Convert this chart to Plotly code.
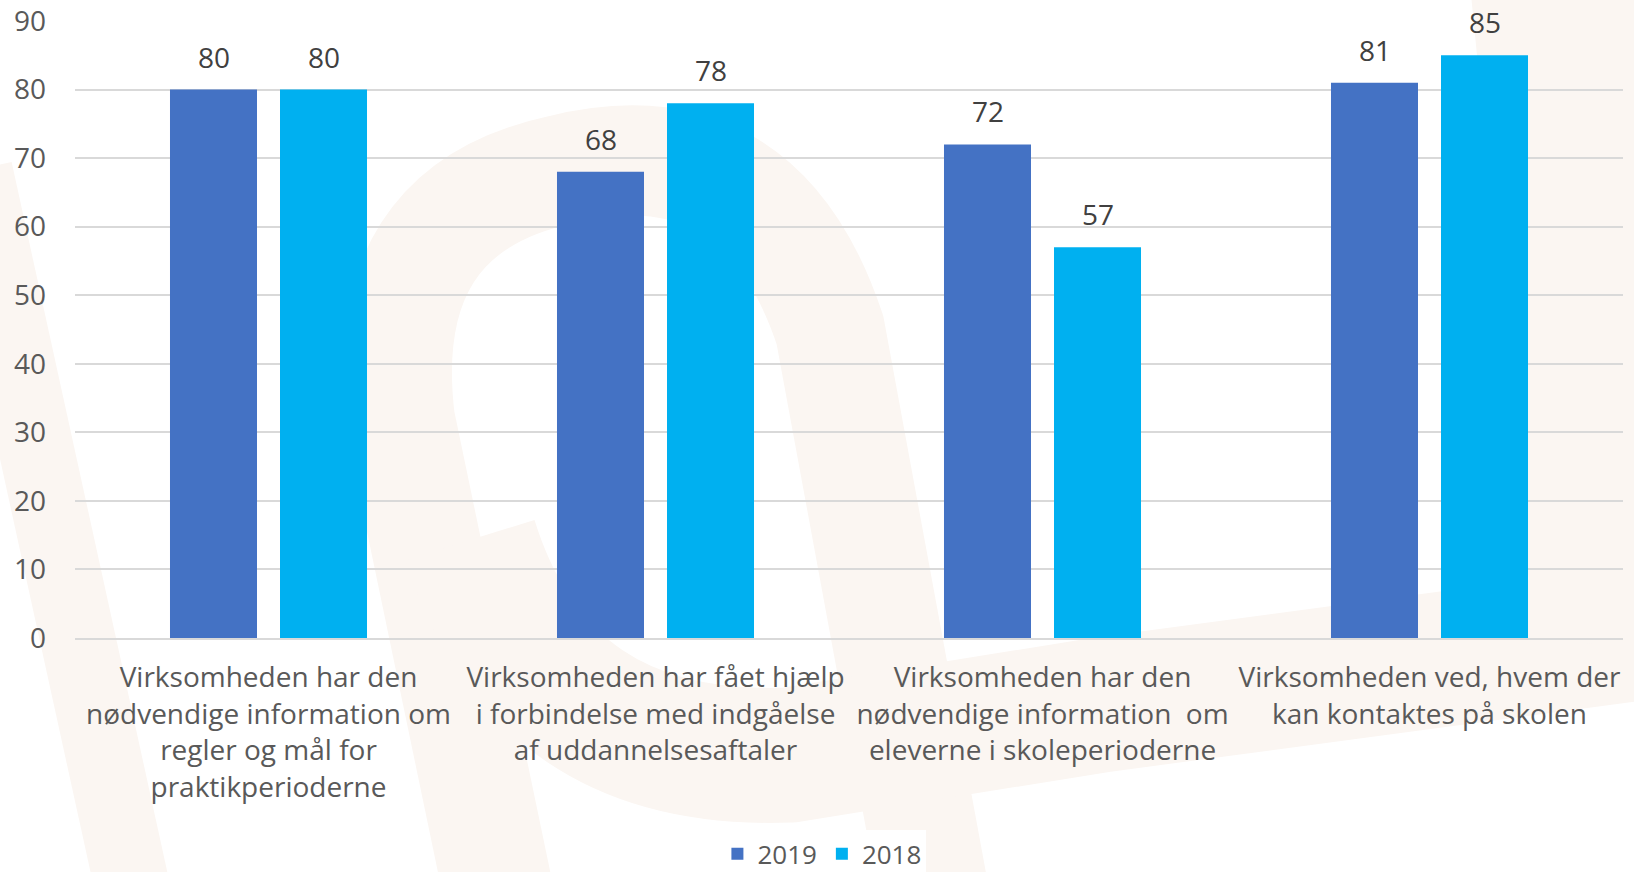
import plotly.graph_objects as go

categories = [
    "Virksomheden har den<br>nødvendige information om<br>regler og mål for<br>praktikperioderne",
    "Virksomheden har fået hjælp<br>i forbindelse med indgåelse<br>af uddannelsesaftaler",
    "Virksomheden har den<br>nødvendige information  om<br>eleverne i skoleperioderne",
    "Virksomheden ved, hvem der<br>kan kontaktes på skolen",
]
series_names = ["2019", "2018"]
values_2019 = [80, 68, 72, 81]
values_2018 = [80, 78, 57, 85]
series_colors = ["#4472C4", "#00B0F0"]
y_ticks = [0, 10, 20, 30, 40, 50, 60, 70, 80, 90]

font_family = "Open Sans, Liberation Sans, sans-serif"

W, H = 1634, 872
ML, MR, MT, MB = 75, 11, 21, 234
PW, PH = W - ML - MR, H - MT - MB


def px_path(points):
    """Decorative watermark path given in pixel coordinates -> paper coords."""
    out = []
    for cmd, pts in points:
        coords = " ".join(f"{(x - ML) / PW:.4f},{(H - MB - y) / PH:.4f}" for x, y in pts)
        out.append(f"{cmd} {coords}")
    return " ".join(out)


fig = go.Figure()
for name, vals, col in zip(series_names, [values_2019, values_2018], series_colors):
    fig.add_trace(go.Bar(name=name, x=categories, y=vals, marker_color=col,
                         marker_line_width=0))

# value labels above the bars
bar_offsets = [-55, 55]
annotations = []
for vals, dx in zip([values_2019, values_2018], bar_offsets):
    for cat, v in zip(categories, vals):
        annotations.append(dict(
            x=cat, y=v, xref="x", yref="y", text=str(v), showarrow=False,
            xshift=dx, yshift=12, yanchor="bottom",
            font=dict(size=28, color="#404040", family=font_family),
        ))

# faint watermark logo in the background
wm = "#fbf6f2"


def wm_stroke(pts, width):
    return dict(type="path", xref="paper", yref="paper", layer="below",
                path=px_path(pts), line=dict(color=wm, width=width))


shapes = [
    # left tail
    wm_stroke([("M", [(-25, 170)]), ("L", [(135, 900)])], 75),
    # arch: left leg, top, right leg
    wm_stroke([("M", [(500, 900)]), ("L", [(400, 420)]),
               ("Q", [(375, 210), (560, 170)]),
               ("Q", [(760, 120), (830, 330)]),
               ("L", [(935, 900)])], 110),
    # lower curved band
    wm_stroke([("M", [(470, 540)]), ("Q", [(540, 765), (790, 755)]),
               ("L", [(1100, 705)]), ("L", [(1700, 625)])], 135),
    # right band
    wm_stroke([("M", [(1560, -20)]), ("L", [(1625, 640)])], 180),
]

fig.update_layout(
    width=W, height=H,
    barmode="group", bargap=0.4315, bargroupgap=0.209,
    plot_bgcolor="rgba(0,0,0,0)", paper_bgcolor="#ffffff",
    margin=dict(l=ML, r=MR, t=MT, b=MB, autoexpand=False),
    font=dict(family=font_family, color="#595959", size=28),
    legend=dict(
        orientation="h", x=0.4825, xanchor="center", y=-0.350, yanchor="middle",
        font=dict(size=26, color="#595959"),
        itemwidth=30, traceorder="normal",
    ),
    annotations=annotations,
    shapes=shapes,
)
fig.update_yaxes(
    range=[0, 90], tickvals=y_ticks, showgrid=True, gridcolor="#d9d9d9",
    gridwidth=1.5, zeroline=False, showline=False, automargin=False,
    tickfont=dict(size=28, color="#595959"), ticklabelstandoff=28,
)
fig.update_xaxes(
    showline=True, linecolor="#d9d9d9", linewidth=1.5, automargin=False,
    tickfont=dict(size=28, color="#595959"), ticks="", ticklabelstandoff=14,
    tickangle=0,
)

fig.write_html("out.html", config={"displayModeBar": False},
               post_script="document.body.style.margin='0';")
